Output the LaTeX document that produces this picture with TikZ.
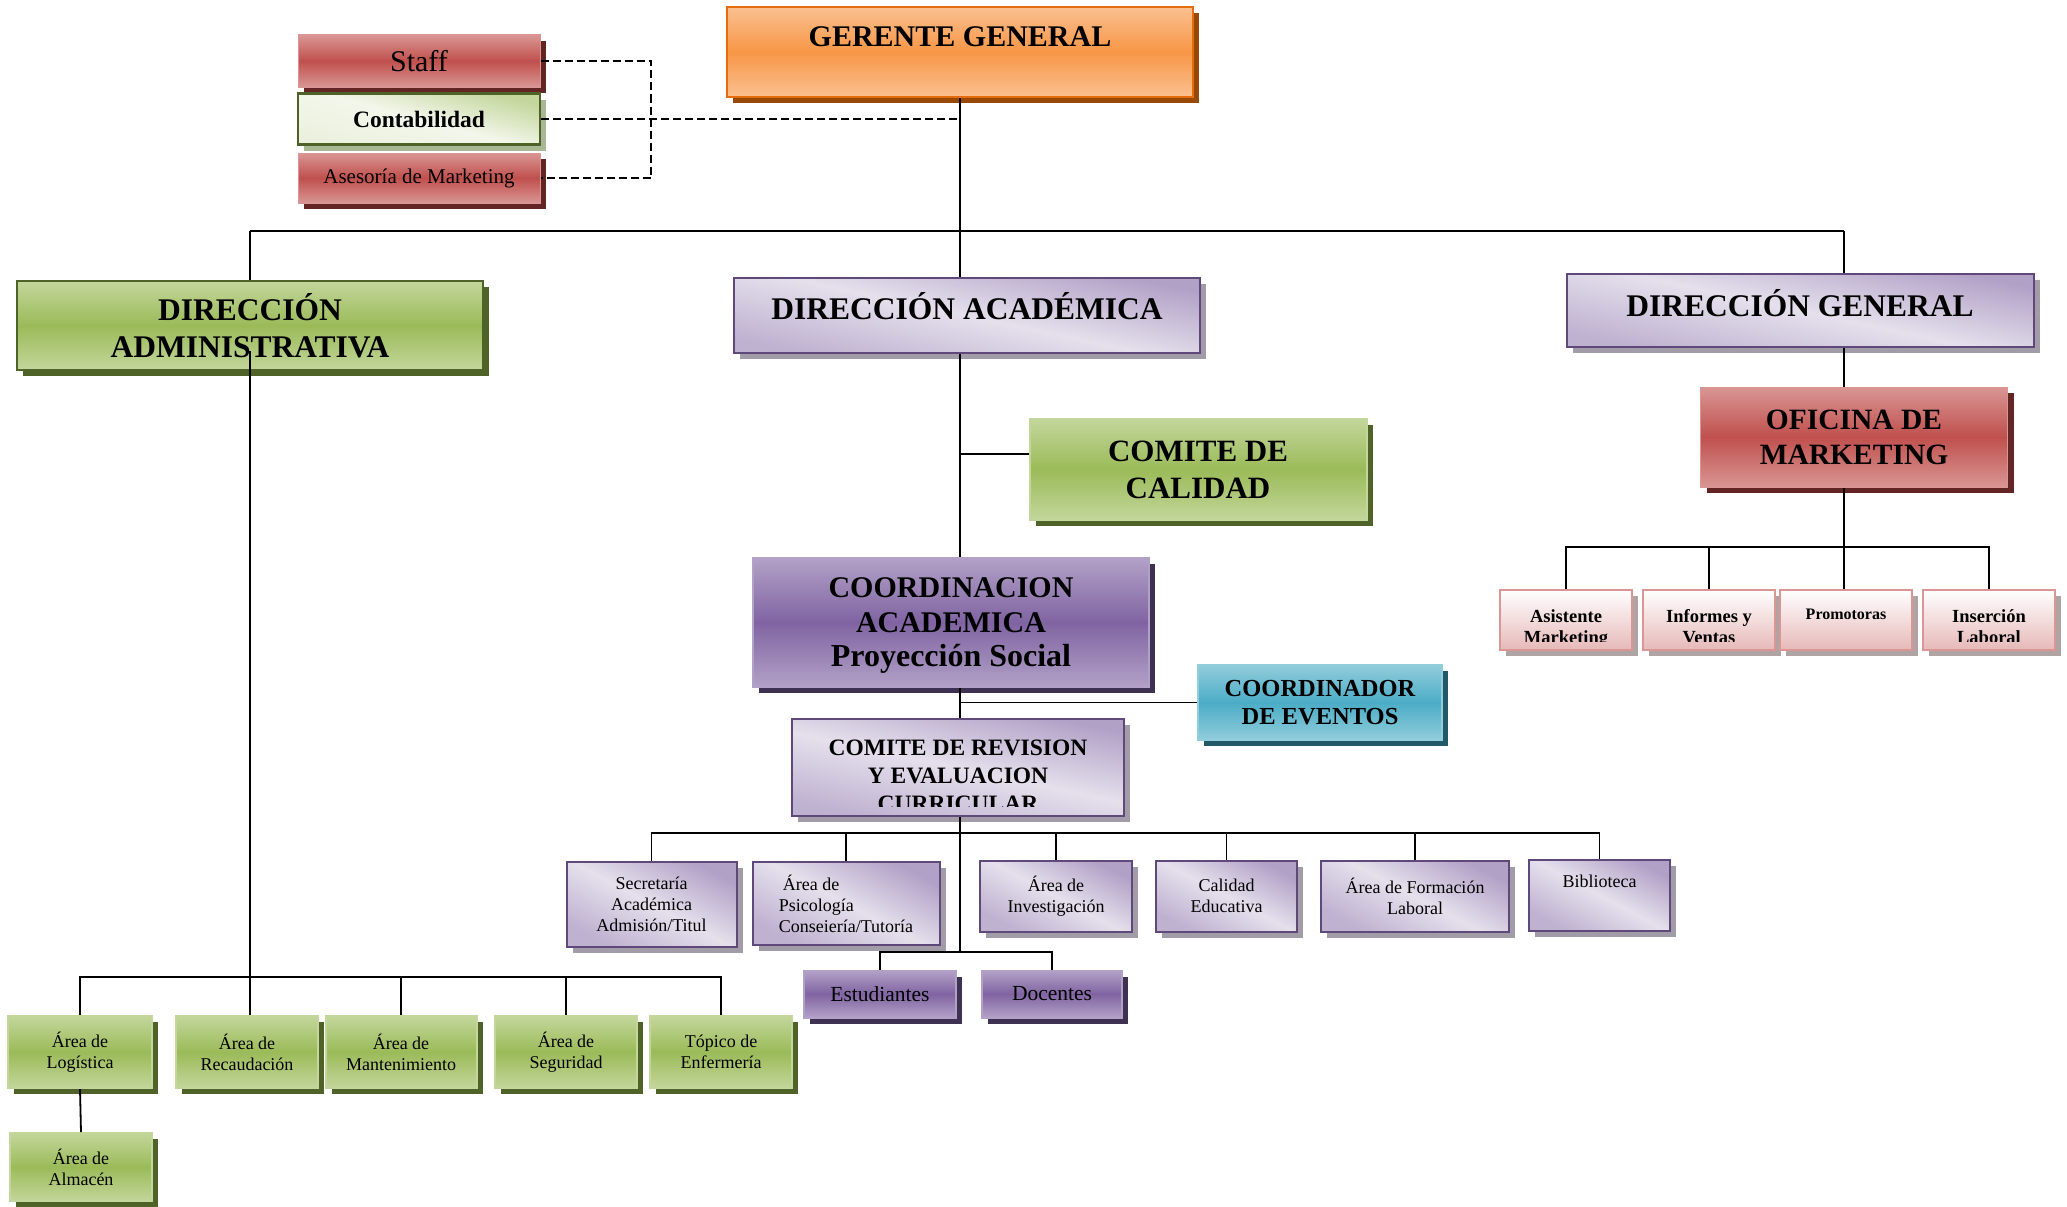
\documentclass[tikz,border=0pt]{standalone}
\usepackage{fontspec}
\setmainfont{Liberation Serif}
\usetikzlibrary{calc}

\definecolor{orgLight}{HTML}{FAC090}
\definecolor{orgMid}{HTML}{F79646}
\definecolor{orgLine}{HTML}{E46C0A}
\definecolor{orgShadow}{HTML}{984807}
\definecolor{redLight}{HTML}{D99694}
\definecolor{redMid}{HTML}{C0504D}
\definecolor{redShadow}{HTML}{632523}
\definecolor{grnLight}{HTML}{C3D69B}
\definecolor{grnMid}{HTML}{9BBB59}
\definecolor{grnDark}{HTML}{4F6228}
\definecolor{grnPale}{HTML}{EBF1DE}
\definecolor{grnGrey}{HTML}{A9B894}
\definecolor{lilaDark}{HTML}{B2A1C7}
\definecolor{lilaLight}{HTML}{E5E0EC}
\definecolor{lilaMid}{HTML}{8064A2}
\definecolor{lilaLine}{HTML}{5F497A}
\definecolor{lilaShadow}{HTML}{3F3151}
\definecolor{lilaGrey}{HTML}{A29BA8}
\definecolor{tealLight}{HTML}{92CDDC}
\definecolor{tealMid}{HTML}{4BACC6}
\definecolor{tealShadow}{HTML}{215968}
\definecolor{pinkLow}{HTML}{E6B9B8}
\definecolor{pinkGrey}{HTML}{AFA3A3}

\newcommand{\fGer}{\fontsize{30}{36}\selectfont\bfseries}
\newcommand{\fDir}{\fontsize{31.5}{36.5}\selectfont\bfseries}
\newcommand{\fCal}{\fontsize{31}{37}\selectfont\bfseries}
\newcommand{\fOfi}{\fontsize{29.5}{35}\selectfont\bfseries}
\newcommand{\fCoord}{\fontsize{30}{34.5}\selectfont\bfseries}
\newcommand{\fEvt}{\fontsize{24.5}{27.5}\selectfont\bfseries}
\newcommand{\fRev}{\fontsize{23.5}{28}\selectfont\bfseries}
\newcommand{\fStaff}{\fontsize{30}{36}\selectfont}
\newcommand{\fConta}{\fontsize{23.5}{28}\selectfont\bfseries}
\newcommand{\fAses}{\fontsize{21}{25}\selectfont}
\newcommand{\fMk}{\fontsize{18.5}{21}\selectfont\bfseries}
\newcommand{\fPro}{\fontsize{16}{19}\selectfont\bfseries}
\newcommand{\fSmall}{\fontsize{18}{21}\selectfont}
\newcommand{\fEst}{\fontsize{21.5}{25}\selectfont}

\tikzset{
  box/.style={rectangle, inner sep=0pt, align=center, line width=2pt},
  dims/.style 2 args={minimum width=#1pt, minimum height=#2pt},
  shad/.style={preaction={fill=#1, draw=none, transform canvas={xshift=6pt,yshift=-6pt}}},
  orangebox/.style={box, draw=orgLine, top color=orgLight, bottom color=orgLight, middle color=orgMid, shad=orgShadow},
  redbox/.style={box, draw=redLight, line width=1pt, top color=redLight, bottom color=redLight, middle color=redMid, shad=redShadow},
  greenbox/.style={box, draw=grnLight, top color=grnLight, bottom color=grnLight, middle color=grnMid, shad=grnDark},
  contabox/.style={box, draw=grnDark, line width=2.5pt, top color=grnLight, bottom color=grnPale, middle color=grnPale!60!white, shading angle=-15, shad=grnGrey},
  lilabox/.style={box, draw=lilaLine, top color=lilaDark, bottom color=lilaDark!75!lilaLight, middle color=lilaLight, shading angle=-12, shad=lilaGrey},
  lilasmall/.style={lilabox, shading angle=-28},
  darklila/.style={box, draw=lilaDark, top color=lilaDark, bottom color=lilaDark, middle color=lilaMid, shad=lilaShadow},
  tealbox/.style={box, draw=tealLight, top color=tealLight, bottom color=tealLight, middle color=tealMid, shad=tealShadow},
  pinkbox/.style={box, draw=redLight, line width=2.5pt, top color=white, bottom color=pinkLow, shad=pinkGrey},
  conn/.style={line width=1.8pt},
  dashline/.style={line width=1.8pt, dash pattern=on 8pt off 4pt}
}

\begin{document}
\begin{tikzpicture}[x=1pt,y=-1pt]
\useasboundingbox (0,0) rectangle (2067,1207);

% gerencia y staff
\node[orangebox, dims={466}{90}] (ger) at (960,52) {};
\node[font=\fGer, anchor=north] (gert) at ($(ger.north)+(0,17)$) {GERENTE GENERAL};
\node[redbox, dims={242}{52}, font=\fStaff] (staff) at (419,61) {\raisebox{-3pt}{Staff}};
\node[contabox, dims={242}{51}, font=\fConta] (conta) at (419,119) {Contabilidad};
\node[redbox, dims={242}{50}, font=\fAses] (ases) at (419,178) {Asesoría de Marketing};

% direcciones
\node[greenbox, draw=grnDark, dims={466}{89}, font=\fDir] (dadm) at (250,325.5) {DIRECCIÓN\\ADMINISTRATIVA};
\node[lilabox, dims={466}{75}, font=\fDir, text depth=20pt] (da) at (967,315.5) {DIRECCIÓN ACADÉMICA};
\node[lilabox, dims={467}{73}, font=\fDir, text depth=16pt] (dg) at (1800,310.5) {DIRECCIÓN GENERAL};

% marketing
\node[redbox, dims={307}{100}, font=\fOfi] (ofi) at (1854,437) {OFICINA DE\\MARKETING};
\node[pinkbox, dims={132}{60}] (asi) at (1566,620) {};
\node[pinkbox, dims={132}{60}] (inf) at (1709,620) {};
\node[pinkbox, dims={132}{60}] (pro) at (1846,620) {};
\node[pinkbox, dims={132}{60}] (ins) at (1989,620) {};
\begin{scope}
  \clip (asi.north west) rectangle ($(ins.south east)+(0,-10)$);
  \node[font=\fMk, align=center, anchor=north] (asit) at ($(asi.north)+(0,17)$) {Asistente\\Marketing};
  \node[font=\fMk, align=center, anchor=north] (inft) at ($(inf.north)+(0,17)$) {Informes y\\Ventas};
  \node[font=\fPro, align=center, anchor=north] (prot) at ($(pro.north)+(0,16.5)$) {Promotoras};
  \node[font=\fMk, align=center, anchor=north] (inst) at ($(ins.north)+(0,17)$) {Inserción\\Laboral};
\end{scope}

% area academica
\node[greenbox, dims={337}{101}, font=\fCal] (cal) at (1198,469.5) {COMITE DE\\CALIDAD};
\node[darklila, dims={396}{129}, font=\fCoord] (ca) at (951,622.5) {\rule{0pt}{26pt}COORDINACION\\ACADEMICA\\{\fontsize{32}{34.5}\selectfont Proyección Social}};
\node[tealbox, dims={244}{75}, font=\fEvt] (evt) at (1320,702.5) {COORDINADOR\\DE EVENTOS};
\node[lilabox, dims={332}{97}] (crev) at (958,767.5) {};
\begin{scope}
  \clip (crev.north west) rectangle ($(crev.south east)+(0,-11)$);
  \node[font=\fRev, align=center, anchor=north] (crevt) at ($(crev.north)+(0,18)$) {COMITE DE REVISION\\Y EVALUACION\\CURRICULAR};
\end{scope}

\node[lilasmall, dims={170}{85}, font=\fSmall] (sec) at (651.5,904) {Secretaría\\Académica\\Admisión/Titul};
\node[lilasmall, dims={187}{83}, font=\fSmall, align=left] (psi) at (846,903.5) {\hspace{4pt}Área de\\Psicología\\Conseiería/Tutoría};
\node[lilasmall, dims={152}{71}, font=\fSmall] (inv) at (1056,896) {Área de\\Investigación};
\node[lilasmall, dims={141}{71}, font=\fSmall] (cae) at (1226.5,896) {Calidad\\Educativa};
\node[lilasmall, dims={188}{71}, font=\fSmall] (form) at (1415,896.5) {Área de Formación\\Laboral};
\node[lilasmall, dims={141}{71}, font=\fSmall, text depth=27pt] (bib) at (1599.5,895) {Biblioteca};
\node[darklila, dims={152}{47}, font=\fEst] (est) at (880,994) {Estudiantes};
\node[darklila, dims={140}{47}, font=\fEst] (doc) at (1052,994) {Docentes};

% area administrativa
\node[greenbox, dims={144}{72}, font=\fSmall] (log) at (80,1052) {Área de\\Logística};
\node[greenbox, dims={142}{72}, font=\fSmall] (rec) at (247,1052) {Área de\\Recaudación};
\node[greenbox, dims={151}{72}, font=\fSmall] (man) at (401,1052) {Área de\\Mantenimiento};
\node[greenbox, dims={142}{72}, font=\fSmall] (seg) at (566,1052) {Área de\\Seguridad};
\node[greenbox, dims={142}{72}, font=\fSmall] (enf) at (721,1052) {Tópico de\\Enfermería};
\node[greenbox, dims={142}{68}, font=\fSmall] (alm) at (81,1167) {Área de\\Almacén};

% lineas
\coordinate (dsh) at (651,0);
\draw[dashline] (staff.east) -- (staff.east -| dsh) -- (ases.east -| dsh) -- (ases.east);
\draw[dashline] (conta.east) -- (conta.east -| ger.south);
\draw[conn] (ger.south) -- (ger.south |- da.north);
\coordinate (busL) at (250,231);
\coordinate (busR) at (1844,231);
\draw[conn] (busL) -- (busR);
\draw[conn] (busL) -- (dadm.north);
\draw[conn] (busR) -- (busR |- dg.north);
\draw[conn] (dg.south -| busR) -- (ofi.north -| busR);
\draw[conn] (ofi.south -| busR) -- (pro.north -| busR);
\coordinate (mbus) at (1844,547);
\foreach \n in {asi,inf,ins} \draw[conn] (mbus) -| (\n.north);

\draw[conn] (da.south -| ger.south) -- (ca.north -| ger.south);
\coordinate (calb) at (960,454);
\draw[conn] (calb) -- (calb -| cal.west);
\draw[conn] (ca.south -| ger.south) -- (crev.north -| ger.south);
\draw[conn] (evt.west -| ger.south) -- (evt.west);
\coordinate (sbus) at (960,833);
\coordinate (ebus) at (960,952);
\draw[conn] (crev.south -| ger.south) -- (ebus);
\foreach \n in {sec,psi,inv,cae,form,bib} \draw[conn] (sbus) -| (\n.north);
\foreach \n in {est,doc} \draw[conn] (ebus) -| (\n.north);

\draw[conn] ($(dadm.south)+(0,-20)$) -- (dadm.south |- rec.north);
\coordinate (abus) at (250,977);
\foreach \n in {log,man,seg,enf} \draw[conn] (abus) -| (\n.north);
\draw[conn] (log.south) -- (alm.north);
\end{tikzpicture}
\end{document}
